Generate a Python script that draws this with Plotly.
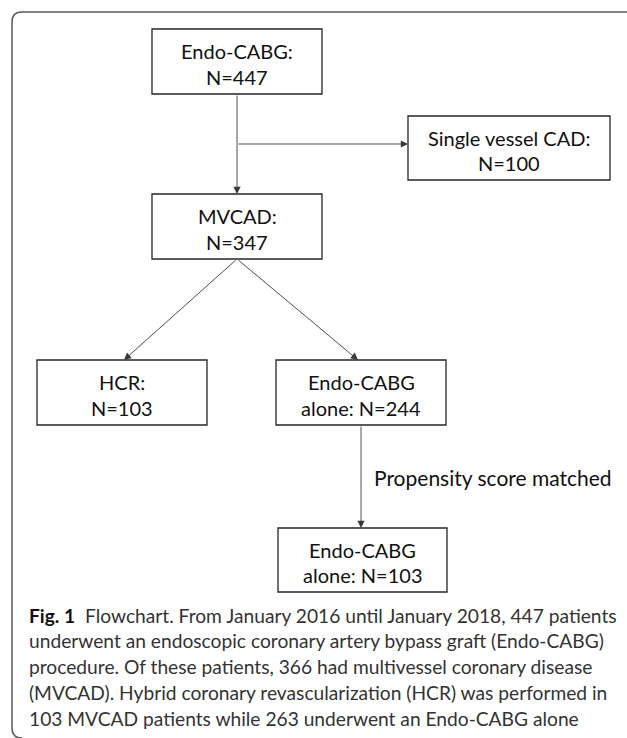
import plotly.graph_objects as go

# ---- data ----
box_titles = ["Endo-CABG:", "Single vessel CAD:", "MVCAD:", "HCR:", "Endo-CABG", "Endo-CABG"]
box_counts = [447, 100, 347, 103, 244, 103]
box_count_prefix = ["N=", "N=", "N=", "N=", "alone: N=", "alone: N="]
edge_label = "Propensity score matched"
caption_lines = [
    "Flowchart. From January 2016 until January 2018, 447 patients",
    "underwent an endoscopic coronary artery bypass graft (Endo-CABG)",
    "procedure. Of these patients, 366 had multivessel coronary disease",
    "(MVCAD). Hybrid coronary revascularization (HCR) was performed in",
    "103 MVCAD patients while 263 underwent an Endo-CABG alone",
]
caption_label = "Fig. 1"

# ---- layout geometry (pixels, y downward) ----
W, H = 627, 738
boxes = [  # x0, x1, y0, y1
    (152, 322, 29, 94),
    (408, 610, 116, 180),
    (152, 322, 194, 259),
    (37, 207, 360, 425),
    (276, 446, 360, 425),
    (278, 447, 528, 592),
]

fig = go.Figure()
shapes = []
annotations = []

BOX_FONT = dict(family="Lato, Open Sans, sans-serif", size=20, color="#111111")
LINE_C = "#3a3a3a"

for (x0, x1, y0, y1), t, p, n in zip(boxes, box_titles, box_count_prefix, box_counts):
    shapes.append(dict(type="rect", x0=x0, x1=x1, y0=y0, y1=y1, xref="x", yref="y",
                       line=dict(color="#262626", width=1.3), fillcolor="rgba(0,0,0,0)"))
    cx = (x0 + x1) / 2
    h = y1 - y0
    annotations.append(dict(x=cx, y=y0 + h * 0.34, text=t, showarrow=False, xref="x", yref="y",
                            font=BOX_FONT, xanchor="center", yanchor="middle"))
    annotations.append(dict(x=cx, y=y0 + h * 0.74, text=f"{p}{n}", showarrow=False, xref="x", yref="y",
                            font=BOX_FONT, xanchor="center", yanchor="middle"))

# connector lines / arrows
def arrow(x_tail, y_tail, x_tip, y_tip):
    annotations.append(dict(x=x_tip, y=y_tip, ax=x_tail, ay=y_tail, xref="x", yref="y",
                            axref="x", ayref="y", showarrow=True, arrowhead=2, arrowsize=1.6,
                            arrowwidth=0.9, arrowcolor=LINE_C, text=""))

b1, bs, bm, bh, ba, bb = boxes
c1 = (b1[0] + b1[1]) / 2
branch_y = 144
arrow(c1, b1[3], c1, bm[2])
arrow(c1, branch_y, bs[0], branch_y)
arrow(c1, bm[3], (bh[0] + bh[1]) / 2 + 2, bh[2])
arrow(c1, bm[3], (ba[0] + ba[1]) / 2 - 3, ba[2])
ca = (ba[0] + ba[1]) / 2
arrow(ca, ba[3], ca, bb[2])

annotations.append(dict(x=ca + 11, y=477, text=edge_label, showarrow=False, xref="x", yref="y",
                        font=dict(BOX_FONT, size=21), xanchor="left", yanchor="middle"))

# outer rounded frame
r = 10
fx, fy = 12, 12
shapes.append(dict(type="path", xref="x", yref="y",
                   path=f"M {W+20},{fy} L {fx+r},{fy} Q {fx},{fy} {fx},{fy+r} "
                        f"L {fx},{H-10} Q {fx},{H} {fx+r},{H}",
                   line=dict(color="#5a5a5a", width=1.5)))

# caption
CAP_FONT = dict(family="Lato, Open Sans, sans-serif", size=19.2, color="#333333")
cap_y0 = 615
cap_dy = 25.8
for i, line in enumerate(caption_lines):
    txt = line
    if i == 0:
        txt = f"<b><span style='color:#111111'>{caption_label}</span></b>&nbsp;&nbsp;" + line
    annotations.append(dict(x=27, y=cap_y0 + i * cap_dy, text=txt, showarrow=False, xref="x", yref="y",
                            font=CAP_FONT, xanchor="left", yanchor="middle"))

fig.update_layout(
    width=W, height=H, margin=dict(l=0, r=0, t=0, b=0),
    paper_bgcolor="white", plot_bgcolor="white",
    xaxis=dict(range=[0, W], visible=False, fixedrange=True),
    yaxis=dict(range=[H, 0], visible=False, fixedrange=True),
    shapes=shapes, annotations=annotations, showlegend=False,
)
fig.write_html("out.html", config={"displayModeBar": False, "staticPlot": True},
               post_script="document.body.style.margin='0';document.body.style.overflow='hidden';")
